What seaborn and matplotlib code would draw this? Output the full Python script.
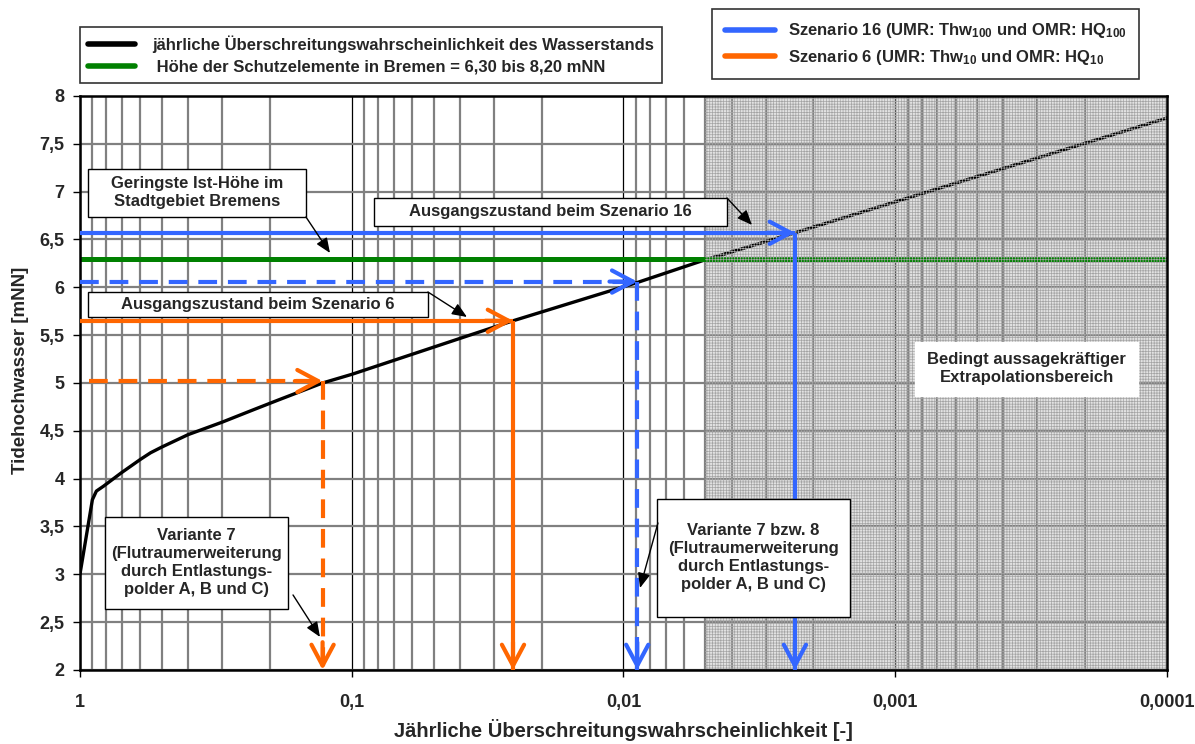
import numpy as np
import pandas as pd
import matplotlib
matplotlib.use('Agg')
import matplotlib.pyplot as plt
import matplotlib.ticker as mticker
from matplotlib.lines import Line2D
from matplotlib.patches import Rectangle
import seaborn as sns

# Kurve: jährliche Überschreitungswahrscheinlichkeit -> Tidehochwasser [mNN]
curve_p = [1, 0.9, 0.87, 0.82, 0.705, 0.6, 0.55, 0.5, 0.4, 0.3, 0.23, 0.187, 0.128, 0.1,
           0.0255, 0.0089, 0.0051, 0.00234, 0.0001]
curve_h = [3.0, 3.78, 3.87, 3.92, 4.06, 4.20, 4.27, 4.33, 4.46, 4.59, 4.72, 4.82, 5.0, 5.09,
           5.65, 6.05, 6.28, 6.57, 7.77]

schutz_h = 6.30
extrap_p = [0.005, 0.0001]

# Szenarien / Varianten (Pfeile)
scen_p = [0.00234, 0.0089, 0.0255, 0.128]
scen_h = [6.57, 6.06, 5.65, 5.02]
scen_start = [1, 1, 1, 0.93]
scen_color = ['#3366ff', '#3366ff', '#ff6600', '#ff6600']
scen_dashed = [False, True, False, True]

x_ticks = [1, 0.1, 0.01, 0.001, 0.0001]
y_ticks = [2, 2.5, 3, 3.5, 4, 4.5, 5, 5.5, 6, 6.5, 7, 7.5, 8]

leg_left = ['jährliche Überschreitungswahrscheinlichkeit des Wasserstands',
            ' Höhe der Schutzelemente in Bremen = 6,30 bis 8,20 mNN']
leg_right = [r'Szenario 16 (UMR: Thw$_{100}$ und OMR: HQ$_{100}$',
             r'Szenario 6 (UMR: Thw$_{10}$ und OMR: HQ$_{10}$']

sns.set_theme(style='white')
plt.rcParams['font.family'] = ['Liberation Sans', 'DejaVu Sans']
plt.rcParams['font.weight'] = 'bold'
plt.rcParams['axes.labelweight'] = 'bold'
plt.rcParams['mathtext.fontset'] = 'custom'
plt.rcParams['mathtext.rm'] = 'Liberation Sans:bold'
plt.rcParams['mathtext.it'] = 'Liberation Sans:bold'
plt.rcParams['mathtext.bf'] = 'Liberation Sans:bold'
plt.rcParams['mathtext.default'] = 'rm'
plt.rcParams['hatch.linewidth'] = 0.5

fig = plt.figure(figsize=(11.95, 7.44), dpi=100)
ax = fig.add_axes([0.0669, 0.0995, 0.9097, 0.7715])
ax.set_xscale('log')
ax.set_xlim(1, 1e-4)
ax.set_ylim(2, 8)

# Extrapolationsbereich
ax.axvspan(extrap_p[0], extrap_p[1], facecolor='#e2e2e2', edgecolor='none', zorder=0.2)
ax.axvspan(extrap_p[0], extrap_p[1], facecolor='none', edgecolor='#a4a4a4',
           hatch='++++++', lw=0, zorder=2.5)

# Gitter
ax.set_axisbelow(True)
ax.xaxis.set_major_locator(mticker.FixedLocator(x_ticks))
ax.xaxis.set_minor_locator(mticker.LogLocator(base=10, subs=np.arange(2, 10), numticks=100))
ax.yaxis.set_major_locator(mticker.FixedLocator(y_ticks))
fmt = mticker.FuncFormatter(lambda v, _: f"{v:g}".replace('.', ','))
ax.xaxis.set_major_formatter(fmt)
ax.xaxis.set_minor_formatter(mticker.NullFormatter())
ax.yaxis.set_major_formatter(fmt)
ax.grid(True, which='minor', axis='x', color='#808080', lw=1.6)
ax.grid(True, which='major', axis='x', color='black', lw=0.9)
ax.grid(True, which='major', axis='y', color='#808080', lw=1.6)

# Kurve
df = pd.DataFrame({'p': curve_p, 'h': curve_h})
sns.lineplot(data=df, x='p', y='h', color='black', lw=2.4, ax=ax, zorder=2, legend=False)
ax.axhline(schutz_h, color='#008000', lw=3.6, zorder=2)

# Pfeile der Szenarien
head = '->,head_length=0.75,head_width=0.4'
for p, h, p0, c, dashed in zip(scen_p, scen_h, scen_start, scen_color, scen_dashed):
    ls = (0, (4.5, 2.6)) if dashed else '-'
    ax.plot([p0, p], [h, h], color=c, lw=3, ls=ls, zorder=3, solid_capstyle='butt')
    ax.plot([p, p], [h, 2], color=c, lw=3, ls=ls, zorder=3, solid_capstyle='butt')
    ax.annotate('', xy=(p, h), xytext=(-20, 0), textcoords='offset points',
                arrowprops=dict(arrowstyle=head, color=c, lw=3, mutation_scale=20,
                                shrinkA=0, shrinkB=0), zorder=3)
    ax.annotate('', xy=(p, 2), xytext=(0, 20), textcoords='offset points',
                arrowprops=dict(arrowstyle=head, color=c, lw=3, mutation_scale=20,
                                shrinkA=0, shrinkB=0), zorder=3, annotation_clip=False)


def callout(text, box, start=None, tip=None, border=True):
    x0, y0, x1, y1 = box
    ax.add_patch(Rectangle((x0, y0), x1 - x0, y1 - y0, transform=ax.transAxes,
                           facecolor='white', edgecolor='black' if border else 'white',
                           lw=1.0, zorder=6))
    ax.text((x0 + x1) / 2, (y0 + y1) / 2, text, transform=ax.transAxes, ha='center',
            va='center', fontsize=12, fontweight='bold', linespacing=1.25, zorder=7)
    if tip is not None:
        ax.annotate('', xy=tip, xytext=start, xycoords='axes fraction',
                    textcoords='axes fraction',
                    arrowprops=dict(arrowstyle='-|>,head_length=0.6,head_width=0.25',
                                    color='black', lw=1.0, mutation_scale=15,
                                    shrinkA=0, shrinkB=0), zorder=7)


callout('Geringste Ist-Höhe im\nStadtgebiet Bremens', (0.0074, 0.7892, 0.2079, 0.8728),
        (0.2079, 0.7892), (0.230, 0.7265))
callout('Ausgangszustand beim Szenario 16', (0.2705, 0.7735, 0.5952, 0.8223),
        (0.5952, 0.8223), (0.6182, 0.7753))
callout('Ausgangszustand beim Szenario 6', (0.0074, 0.6150, 0.3201, 0.6585),
        (0.3201, 0.6585), (0.3560, 0.6150))
callout('Variante 7\n(Flutraumerweiterung\ndurch Entlastungs-\npolder A, B und C)',
        (0.0230, 0.1063, 0.1914, 0.2666), (0.1960, 0.1307), (0.2208, 0.0575))
callout('Variante 7 bzw. 8\n(Flutraumerweiterung\ndurch Entlastungs-\npolder A, B und C)',
        (0.5308, 0.0923, 0.7084, 0.2979), (0.5317, 0.2561), (0.5152, 0.1429))
callout('Bedingt aussagekräftiger\nExtrapolationsbereich', (0.7682, 0.4774, 0.9733, 0.5714),
        border=False)

for s in ax.spines.values():
    s.set_color('black')
    s.set_linewidth(1.8)
ax.tick_params(axis='both', which='major', labelsize=13, direction='out', length=5,
               width=1, color='black', left=True, bottom=True)
ax.tick_params(axis='x', which='major', pad=12)
ax.tick_params(axis='y', which='major', pad=6)
ax.tick_params(which='minor', length=0)
ax.set_xlabel('Jährliche Überschreitungswahrscheinlichkeit [-]', fontsize=14.5, labelpad=6)
ax.set_ylabel('Tidehochwasser [mNN]', fontsize=13.5)
ax.yaxis.set_label_coords(-0.047, 0.522)

# Legenden
h_left = [Line2D([], [], color='black', lw=4), Line2D([], [], color='#008000', lw=4)]
lg1 = fig.legend(h_left, leg_left, loc='upper left', bbox_to_anchor=(0.067, 0.964),
                 fontsize=12, frameon=True, fancybox=False, edgecolor='black',
                 handlelength=2.8, handletextpad=1.0, borderpad=0.5, labelspacing=0.4,
                 borderaxespad=0)
lg1.get_frame().set_linewidth(1.2)
h_right = [Line2D([], [], color='#3366ff', lw=4), Line2D([], [], color='#ff6600', lw=4)]
lg2 = fig.legend(h_right, leg_right, loc='upper left', bbox_to_anchor=(0.596, 0.988),
                 fontsize=12, frameon=True, fancybox=False, edgecolor='black',
                 handlelength=3.0, handletextpad=0.8, borderpad=0.75, labelspacing=0.45,
                 borderaxespad=0)
lg2.get_frame().set_linewidth(1.2)

fig.savefig('out.png', dpi=100)
